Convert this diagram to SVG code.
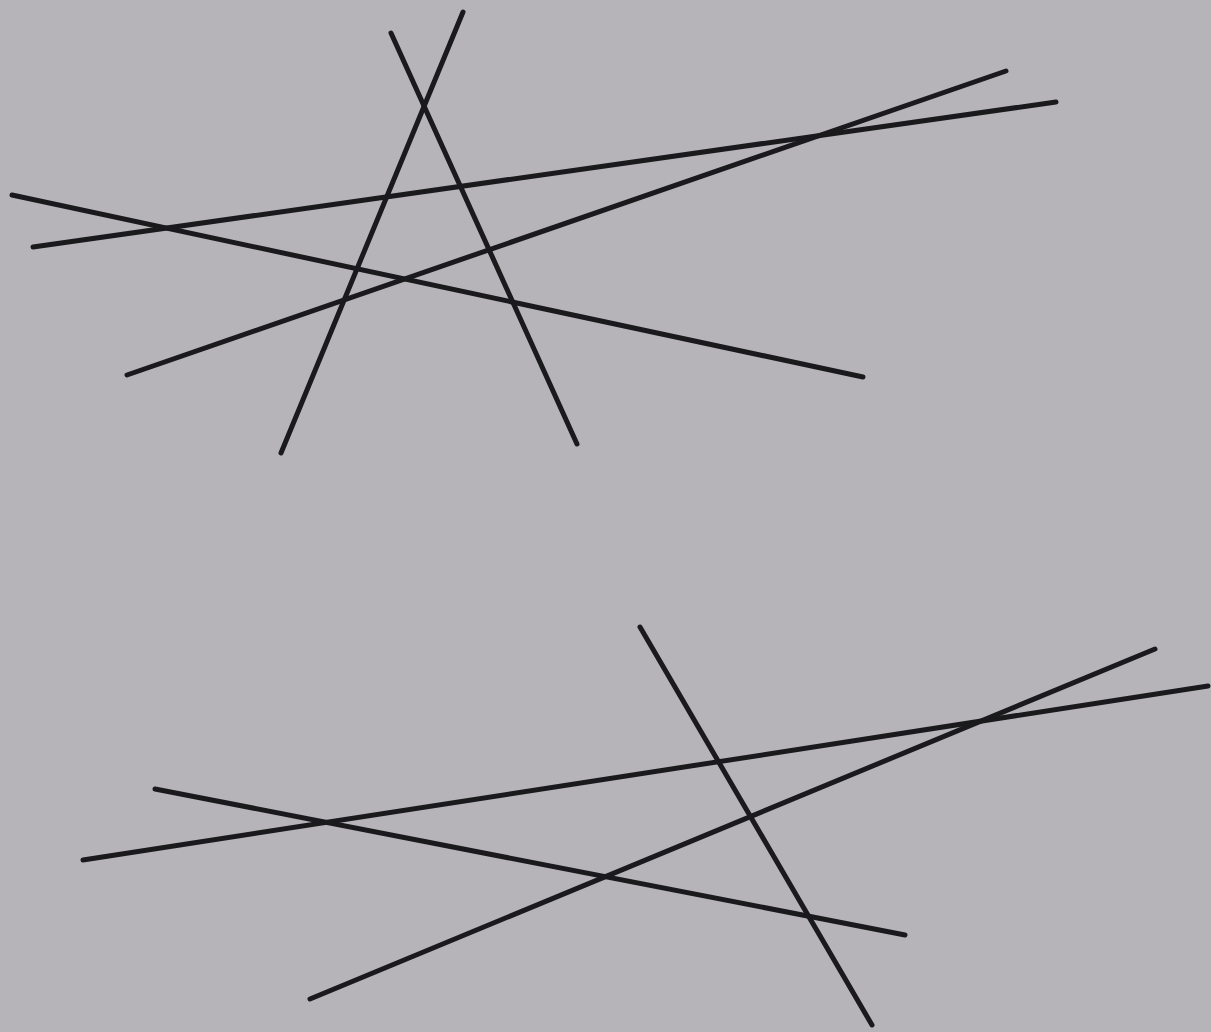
<svg xmlns="http://www.w3.org/2000/svg" width="1211" height="1032" viewBox="0 0 1211 1032">
<style>
.ln{stroke:#1a1a1c;stroke-width:5;stroke-linecap:round;fill:none}
</style>
<rect width="1211" height="1032" fill="#b6b4b9"/>
<g id="top-group">
<line class="ln" x1="391" y1="33" x2="577" y2="444"/>
<line class="ln" x1="463" y1="12" x2="281" y2="453"/>
<line class="ln" x1="12" y1="195" x2="863" y2="377"/>
<line class="ln" x1="33" y1="247" x2="1056" y2="102"/>
<line class="ln" x1="127" y1="375" x2="1006" y2="71"/>
</g>
<g id="bottom-group">
<line class="ln" x1="640" y1="627" x2="872" y2="1025"/>
<line class="ln" x1="155" y1="789" x2="905" y2="935"/>
<line class="ln" x1="83" y1="860" x2="1208" y2="686"/>
<line class="ln" x1="310" y1="999" x2="1155" y2="649"/>
</g>
</svg>
